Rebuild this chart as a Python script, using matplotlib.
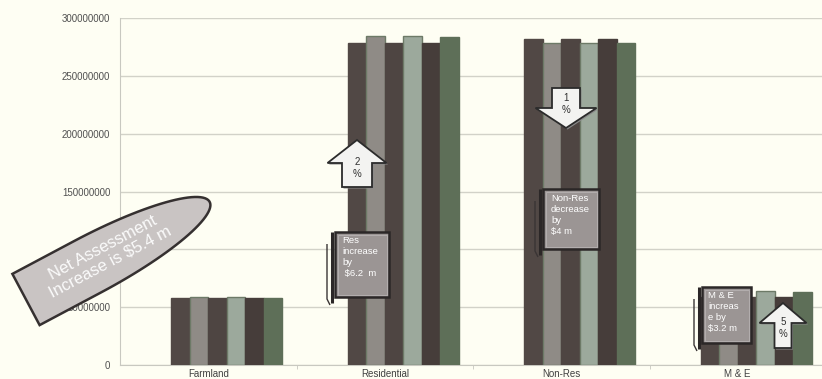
import numpy as np
import matplotlib.pyplot as plt
import matplotlib.patches as patches
from matplotlib.path import Path
import matplotlib.transforms as mtransforms
from matplotlib.ticker import FuncFormatter

plt.rcParams['font.family'] = ['Liberation Sans', 'DejaVu Sans']

# assessment totals per class, six assessment rolls
categories = ['Farmland', 'Residential', 'Non-Res', 'M & E']
roll_1 = [57.6e6, 278.0e6, 281.5e6, 58.6e6]
roll_2 = [58.5e6, 284.3e6, 278.6e6, 62.5e6]
roll_3 = [57.6e6, 278.0e6, 281.5e6, 58.6e6]
roll_4 = [58.5e6, 284.3e6, 278.6e6, 64.0e6]
roll_5 = [57.6e6, 278.0e6, 281.5e6, 58.6e6]
roll_6 = [57.6e6, 283.5e6, 278.0e6, 62.8e6]
series = [roll_1, roll_2, roll_3, roll_4, roll_5, roll_6]

bar_colors = ['#514845', '#8f8b86', '#4e4542', '#9ca99c', '#463d3a', '#5e6f58']
bar_edges = ['#514845', '#6d7a67', '#4e4542', '#6d7a67', '#463d3a', '#5e6f58']

W, H = 822, 379
bg = '#fefef3'
fig = plt.figure(figsize=(W / 100, H / 100), dpi=100, facecolor=bg)
ax = fig.add_axes([120 / W, 1 - 365 / H, 1 - 120 / W, (365 - 18) / H])
ax.set_facecolor(bg)

x = np.arange(len(categories))
bw = 0.105
for i, vals in enumerate(series):
    ax.bar(x + (i - 1.5) * bw, vals, width=bw, color=bar_colors[i],
           edgecolor=bar_edges[i], linewidth=1.0, zorder=3)

ax.set_ylim(0, 300e6)
ax.set_xlim(-0.5, 3.5 - 4 / 176.5)
ax.set_yticks(np.arange(0, 300e6 + 1, 50e6))
ax.yaxis.set_major_formatter(FuncFormatter(lambda v, p: '%d' % v))
ax.grid(axis='y', color='#d2d2c8', linewidth=1.0, zorder=0)
ax.set_xticks(x)
ax.set_xticklabels(categories)
ax.set_xticks(np.arange(0.5, 3.5, 1), minor=True)
ax.tick_params(axis='x', which='major', length=0, pad=3, labelsize=7, labelcolor='#404040')
ax.tick_params(axis='x', which='minor', length=3, color='#c8c8c0')
ax.tick_params(axis='y', length=0, pad=7, labelsize=7, labelcolor='#505050')
for s in ['top', 'right']:
    ax.spines[s].set_visible(False)
ax.spines['left'].set_color('#c8c8c0')
ax.spines['bottom'].set_color('#c8c8c0')

# pixel (y down) -> figure fraction
pix = mtransforms.Affine2D().scale(1 / W, -1 / H).translate(0, 1) + fig.transFigure


def add(p):
    p.set_transform(pix)
    p.set_clip_on(False)
    fig.add_artist(p)
    return p


def note(px, py, s, **kw):
    fig.text(px / W, 1 - py / H, s, **kw)


# "bullet" shaped callout for the net change
L, S, b = 208, 70, 29
t = np.linspace(-np.pi / 2, np.pi / 2, 60)
ex = S + (L - S) * np.cos(t)
ey = b * np.sin(t)
shape = np.vstack([[0, -b], np.column_stack([ex, ey]), [0, b], [0, -b]])
ang = np.deg2rad(28)
rot = np.array([[np.cos(ang), np.sin(ang)], [-np.sin(ang), np.cos(ang)]])
pts = shape @ rot.T + np.array([26, 299.5])
add(patches.Polygon(pts, closed=True, facecolor='#c9c4c3', edgecolor='#353030',
                    linewidth=1.8, zorder=5))
cx, cy = np.array([92, -2]) @ rot.T + np.array([26, 299.5])
note(cx, cy, 'Net Assessment\nIncrease is $5.4 m', color='#fbfbfb', fontsize=12,
     rotation=28, ha='center', va='center', linespacing=1.1, zorder=6,
     rotation_mode='anchor')


def block_arrow(cx, y0, y1, shaft, head, head_len, label, ty):
    # y0 = tip, y1 = tail end
    d = 1 if y1 > y0 else -1
    hb = y0 + d * head_len
    p = [(cx, y0), (cx + head / 2, hb), (cx + shaft / 2, hb), (cx + shaft / 2, y1),
         (cx - shaft / 2, y1), (cx - shaft / 2, hb), (cx - head / 2, hb)]
    add(patches.Polygon([(a + 1.5, c + 1.5) for a, c in p], closed=True,
                        facecolor='#8a8a8a', edgecolor='none', zorder=5))
    add(patches.Polygon(p, closed=True, facecolor='#f3f3f1', edgecolor='#2b2b2b',
                        linewidth=1.3, zorder=6))
    note(cx, ty, label, ha='center', va='center', fontsize=7, color='#303030',
         linespacing=1.2, zorder=7)


block_arrow(357, 140, 187, 30, 59, 23, '2\n%', 168)
block_arrow(566, 128, 88, 28, 61, 20, '1\n%', 104)
block_arrow(783, 303, 348, 17, 47, 20, '5\n%', 328)


def text_box(x0, y0, x1, y1, label, tx, ty):
    # curled shadow down the left side
    add(patches.PathPatch(Path([(x0 - 3, y0), (x0 - 3, y1 + 6)]),
                          edgecolor='#2b2727', linewidth=2.2, zorder=5))
    add(patches.PathPatch(Path([(x0 - 8, y0 + 12), (x0 - 8, y1 + 2), (x0 - 5, y1 + 8)],
                               [Path.MOVETO, Path.LINETO, Path.LINETO]),
                          edgecolor='#3a3535', facecolor='none', linewidth=1.0, zorder=5))
    add(patches.Rectangle((x0, y0), x1 - x0, y1 - y0, facecolor='#9b9594',
                          edgecolor='#2b2727', linewidth=1.8, zorder=6))
    add(patches.Rectangle((x0 + 2.5, y0 + 2.5), x1 - x0 - 5, y1 - y0 - 5, facecolor='none',
                          edgecolor='#b3aeae', linewidth=0.7, zorder=6))
    note(tx, ty, label, ha='left', va='top', fontsize=6.8, color='white',
         linespacing=1.3, zorder=7)


text_box(335, 232, 389, 297, 'Res\nincrease\nby\n $6.2  m', 342, 236)
text_box(543, 189, 599, 249, 'Non-Res\ndecrease\nby\n$4 m', 551, 194)
text_box(702, 287, 751, 343, 'M & E\nincreas\ne by\n$3.2 m', 708, 291)

fig.savefig('out.png', dpi=100, facecolor=bg)
